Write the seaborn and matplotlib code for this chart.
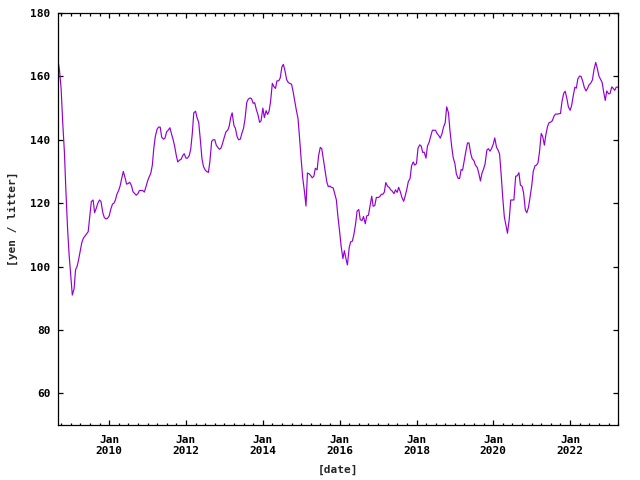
import pandas as pd
import seaborn as sns
import matplotlib
matplotlib.use("Agg")
import matplotlib.pyplot as plt
import matplotlib.dates as mdates

# half-monthly readings, starting 2008-09-01
price = [
    165, 162, 156, 146, 136, 124, 112, 104, 97, 91, 93, 99,
    100, 102, 105, 107.5, 109, 109.6, 110.4, 111, 116, 120.5, 121, 117,
    118.5, 120, 121, 120.5, 117, 115.5, 115, 115.2, 116, 118, 119.7, 120,
    121, 122.8, 124, 125.5, 128, 130, 128, 126, 126.2, 126.6, 125.5, 123.6,
    123, 122.5, 123, 124, 124, 124, 123.5, 125, 127, 128.2, 129.5, 132,
    137.3, 141, 143.3, 144, 144, 140.8, 140.2, 140.5, 142.5, 143, 143.8, 142,
    140, 138, 135, 133, 133.6, 133.8, 135, 135.6, 134.2, 134.2, 135, 137,
    142, 148.5, 149, 147, 145.5, 140.5, 134, 131.6, 130.5, 130, 129.7, 133,
    139.5, 140, 140, 138.3, 137.5, 137, 137.5, 139, 141, 142.5, 143, 144.3,
    147, 148.5, 144.5, 143.6, 141, 140, 140.2, 142, 143.6, 146.5, 151.8, 152.8,
    153.2, 153, 151.5, 151.7, 149.4, 148, 145.5, 146, 150, 147, 149.2, 148,
    149, 152, 157.8, 156.8, 156.2, 158.6, 158.6, 159.5, 163, 163.8, 161.5, 159,
    158, 157.8, 157.5, 155.3, 152, 149.4, 146.8, 141, 133.5, 128, 123.5, 119.1,
    129.5, 129.3, 128.7, 128, 128.5, 131, 130.5, 135, 137.6, 137.2, 133.5, 130.5,
    126.7, 125.2, 125.4, 125, 124.8, 123, 121, 116, 111, 106.5, 102.5, 105,
    102.5, 100.5, 106, 107.8, 108, 110, 113.5, 117.5, 118, 114.8, 114.5, 115.8,
    113.5, 116, 116.2, 119, 122.2, 119, 119.3, 121.8, 121.8, 122, 122.8, 122.8,
    123.5, 126.5, 125.3, 125, 124.2, 123.8, 123, 124.2, 123.4, 125, 123.5, 121.8,
    120.6, 122.2, 124.4, 126.8, 127.8, 131.8, 133, 132, 132.5, 137.3, 138.4, 138,
    136, 136.1, 134.2, 138, 139.2, 141, 143, 143, 143, 142, 141.3, 140.5,
    142, 144, 145.4, 150.4, 148.5, 143, 138, 134.5, 132.5, 129.2, 127.8, 127.8,
    130.6, 130.4, 133.6, 136.3, 139, 139, 135.6, 134, 133.4, 132, 131.3, 129.6,
    127, 129.4, 130.8, 132.4, 136.7, 137.2, 136.4, 137.2, 138.6, 140.6, 137.6, 136.8,
    135.5, 129.5, 121.3, 115.7, 113, 110.5, 115, 121, 121, 121, 128.5, 128.6,
    129.6, 125.7, 125.3, 123.3, 117.8, 117, 118.7, 121.7, 125.6, 130, 131.8, 132,
    132.7, 136, 142, 141, 138.3, 141.6, 144.3, 145.4, 145.6, 146, 147.5, 148.1,
    148.1, 148.2, 148.3, 152, 154.7, 155.3, 153, 150.4, 149.3, 150.8, 154.2, 156.6,
    156.3, 159.2, 160.1, 160, 158.4, 156.6, 155.4, 156.2, 157.4, 157.8, 158.9, 162,
    164.4, 162.7, 160.2, 159.2, 158.1, 155.2, 152.4, 155.4, 154.5, 154.6, 156.7, 156.2,
    155.6, 156.6, 156.6,
]
dates = pd.date_range("2008-09-01", periods=len(price), freq="SMS")
y_ticks = [60, 80, 100, 120, 140, 160, 180]

df = pd.DataFrame({"date": dates, "price": price})

sns.set_style("ticks")
plt.rcParams["font.family"] = ["DejaVu Sans Mono"]
plt.rcParams["font.weight"] = "bold"
plt.rcParams["font.size"] = 8

fig = plt.figure(figsize=(6.4, 4.8), dpi=100)
ax = fig.add_axes([58 / 640, 55 / 480, 560 / 640, 412 / 480])
sns.lineplot(data=df, x="date", y="price", ax=ax, color="#9400d3", linewidth=0.85)

ax.set_xlim(df["date"].min(), df["date"].max())
ax.set_ylim(50, 180)
ax.set_yticks(y_ticks)
ax.xaxis.set_major_locator(mdates.YearLocator(2, month=1))
ax.xaxis.set_minor_locator(mdates.MonthLocator(bymonth=[1, 4, 7, 10]))
ax.xaxis.set_major_formatter(mdates.DateFormatter("%b\n%Y"))

for s in ax.spines.values():
    s.set_visible(True)
    s.set_linewidth(0.9)
    s.set_color("black")
ax.tick_params(which="both", direction="in", top=True, right=True, color="black", width=0.9)
ax.tick_params(which="major", length=3.5, labelcolor="black")
ax.tick_params(which="minor", length=1.8)
ax.tick_params(axis="x", which="major", pad=7.5)
ax.tick_params(axis="y", which="major", pad=5.5)
for lab in ax.get_xticklabels():
    lab.set_linespacing(1.1)

ax.set_xlabel("[date]", fontweight="bold")
ax.set_ylabel("[yen / litter]", fontweight="bold")
ax.xaxis.set_label_coords(0.5, -0.097)
ax.yaxis.set_label_coords(-0.072, 0.5)

fig.savefig("out.png", dpi=100)
